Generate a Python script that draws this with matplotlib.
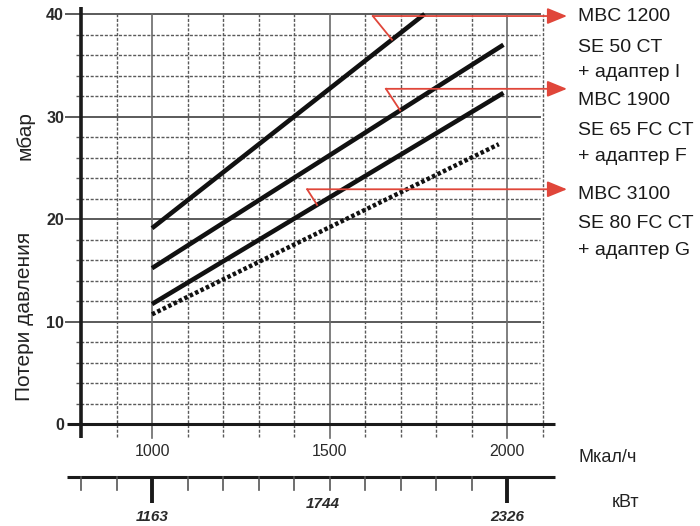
import numpy as np
import matplotlib
matplotlib.use("Agg")
import matplotlib.pyplot as plt

plt.rcParams['font.family'] = ['Liberation Sans', 'DejaVu Sans']

# ---------------- data ----------------
mcal_ticks = [1000, 1500, 2000]
mcal_labels = ["1000", "1500", "2000"]
kw_labels = ["1163", "1744", "2326"]
minor_x = [800, 900, 1100, 1200, 1300, 1400, 1600, 1700, 1800, 1900, 2100]
y_major = [0, 10, 20, 30, 40]
y_minor = [2, 4, 6, 8, 12, 14, 16, 18, 22, 24, 26, 28, 32, 34, 36, 38]

line_1200_x = [1000, 1768]
line_1200_y = [19.1, 40.0]
line_1900_x = [1000, 1990]
line_1900_y = [15.2, 37.0]
line_3100_x = [1000, 1990]
line_3100_y = [11.7, 32.3]
line_dot_x = [1000, 1977]
line_dot_y = [10.7, 27.3]

models = [["MBC 1200", "SE 50 CT", "+ адаптер I"],
          ["MBC 1900", "SE 65 FC CT", "+ адаптер F"],
          ["MBC 3100", "SE 80 FC CT", "+ адаптер G"]]
callout_y = [39.8, 32.7, 22.9]
callout_corner_x = [1622, 1659, 1437]
callout_touch_x = [1676, 1699, 1465]

# ---------------- figure ----------------
W, H = 700, 526
fig = plt.figure(figsize=(7.0, 5.26), dpi=100)
ax = fig.add_axes([0, 0, 1, 1])
px_per_x = 0.355
px_per_y = 10.25
X0 = 1000 - 152 / px_per_x
Y1 = 424 / px_per_y
ax.set_xlim(X0, X0 + W / px_per_x)
ax.set_ylim(Y1 - H / px_per_y, Y1)
ax.axis('off')

def py(p):
    return (424 - p) / px_per_y

def pxd(p):
    return 1000 + (p - 152) / px_per_x

grid_col = '#5a5a5a'
x_right = 2093
# dashed horizontal grid
for v in y_minor:
    ax.plot([785, x_right], [v, v], color=grid_col, lw=1.0,
            dashes=(2.2, 1.2), zorder=1)
# solid horizontal grid (extend left as ticks)
for v in y_major[1:]:
    ax.plot([pxd(66), x_right], [v, v], color=grid_col, lw=1.4, zorder=1)
# vertical grid
for v in minor_x[1:]:
    ax.plot([v, v], [py(437), 40], color=grid_col, lw=1.0,
            dashes=(2.2, 1.2), zorder=1)
for v in mcal_ticks:
    ax.plot([v, v], [py(438), 40], color='#6a6a6a', lw=1.2, zorder=1)

# axes lines
ax.plot([800, 800], [py(438), py(7)], color='#1a1a1a', lw=2.6, zorder=3,
        solid_capstyle='butt')
ax.plot([pxd(67), pxd(555)], [0, 0], color='#1a1a1a', lw=2.2, zorder=3,
        solid_capstyle='butt')

# y tick labels
for v in y_major:
    ax.text(pxd(64), v - 0.15, str(v), ha='right', va='center',
            fontsize=11.5, fontweight='bold', color='#2a2a2a')

# Mcal labels
for v, s in zip(mcal_ticks, mcal_labels):
    ax.text(v, py(456), s, ha='center', va='baseline', fontsize=11.5,
            color='#2a2a2a')

# kW axis
kw_y = py(477)
ax.plot([pxd(67), pxd(555)], [kw_y, kw_y], color='#1a1a1a', lw=2.2,
        solid_capstyle='butt')
for v in minor_x[:-1] + [1500]:
    ax.plot([v, v], [kw_y, py(490)], color='#555555', lw=1.2)
for v in [1000, 2000]:
    ax.plot([v, v], [kw_y, py(503)], color='#1a1a1a', lw=2.8,
            solid_capstyle='butt')
kw_base = [521, 508, 521]
kw_xoff = [0, -7, 0]
for v, s, b, o in zip(mcal_ticks, kw_labels, kw_base, kw_xoff):
    ax.text(v + o / px_per_x, py(b), s, ha='center', va='baseline',
            fontsize=11, style='italic', fontweight='bold', color='#2a2a2a')

# unit labels
ax.text(pxd(579), py(462), "Мкал/ч", ha='left', va='baseline', fontsize=13,
        color='#222222')
ax.text(pxd(612), py(507), "кВт", ha='left', va='baseline', fontsize=13,
        color='#222222')
ax.text(pxd(25), py(136), "мбар", rotation=90, ha='center', va='center',
        fontsize=15, color='#222222')
ax.text(pxd(25), py(316), "Потери давления", rotation=90, ha='center',
        va='center', fontsize=15, color='#222222')

# data lines
lw_line = 3.3
ax.plot(line_1200_x, line_1200_y, color='#111111', lw=lw_line, zorder=4,
        solid_capstyle='butt')
ax.plot(line_1900_x, line_1900_y, color='#111111', lw=lw_line, zorder=4,
        solid_capstyle='butt')
ax.plot(line_3100_x, line_3100_y, color='#111111', lw=lw_line, zorder=4,
        solid_capstyle='butt')
ax.plot(line_dot_x, line_dot_y, color='#111111', lw=3.2, zorder=4,
        dashes=(0.8, 0.55), dash_capstyle='butt')

# callouts
red = '#e0463a'
lines_xy = [(line_1200_x, line_1200_y), (line_1900_x, line_1900_y),
            (line_3100_x, line_3100_y)]
arrow_end = pxd(567)
label_x = pxd(578)
baselines = [[21, 52, 77], [105, 135, 161], [199, 228, 255]]
for (lx, ly), cy, cx, tx, names, bl in zip(lines_xy, callout_y,
                                          callout_corner_x, callout_touch_x,
                                          models, baselines):
    ty = np.interp(tx, lx, ly)
    ax.plot([tx, cx], [ty, cy], color=red, lw=1.3, zorder=5)
    ax.annotate('', xy=(arrow_end, cy), xytext=(cx, cy),
                arrowprops=dict(arrowstyle='-|>,head_length=1.1,head_width=0.45',
                                color=red, lw=1.3, shrinkA=0, shrinkB=0,
                                mutation_scale=11),
                zorder=5)
    for name, b in zip(names, bl):
        ax.text(label_x, py(b), name, ha='left', va='baseline', fontsize=14,
                family=['Liberation Sans Narrow', 'Liberation Sans'],
                color='#1a1a1a')

fig.savefig('out.png', dpi=100)
